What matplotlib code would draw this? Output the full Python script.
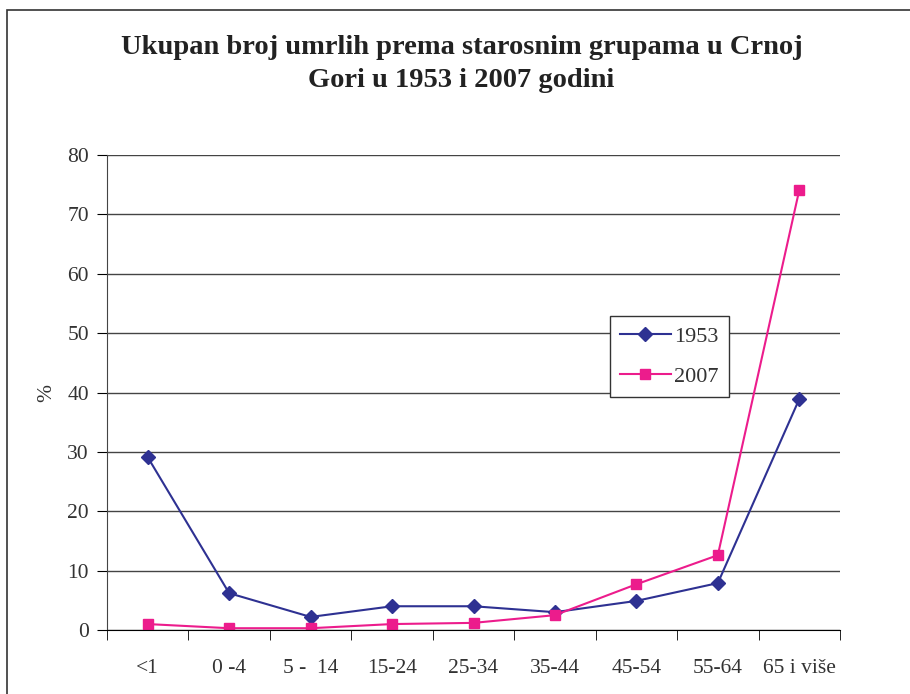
import numpy as np
import matplotlib
matplotlib.use("Agg")
import matplotlib.pyplot as plt
from matplotlib.patches import Rectangle

# age groups and share of deaths (%)
groups = ["<1", "0 -4", "5 -  14", "15-24", "25-34", "35-44", "45-54", "55-64", "65 i više"]
y1953 = [29.1, 6.2, 2.2, 4.0, 4.0, 3.0, 4.9, 7.9, 38.9]
y2007 = [1.0, 0.3, 0.3, 1.0, 1.2, 2.5, 7.7, 12.6, 74.1]
yticks = [0, 10, 20, 30, 40, 50, 60, 70, 80]

plt.rcParams["font.family"] = ["Liberation Serif", "DejaVu Serif"]
fig = plt.figure(figsize=(9.1, 6.94), dpi=100)
# axes: x 107..840 px, y 155..630 px
ax = fig.add_axes([107 / 910, 1 - 630 / 694, 733 / 910, 475 / 694])

x = np.arange(len(groups))
ax.plot(x, y1953, color="#2E3192", lw=1.5, marker="D", ms=7.5, label="1953")
ax.plot(x, y2007, color="#EC1C8C", lw=1.5, marker="s", ms=7.5, label="2007")

ax.set_xlim(-0.5, len(groups) - 0.5)
ax.set_ylim(0, 80)
ax.set_yticks(yticks)
ax.set_xticks(x)
ax.set_xticklabels(groups)
ax.set_xticks(np.arange(-0.5, len(groups)), minor=True)
ax.tick_params(axis="x", which="major", length=0, pad=21, labelsize=15.5, colors="#333333")
ax.tick_params(axis="x", which="minor", length=7, direction="out", color="black")
ax.tick_params(axis="y", length=7, direction="out", labelsize=15.5, colors="#333333", pad=6)
ax.tick_params(axis="y", color="black")
ax.grid(axis="y", color="#444444", lw=1)
ax.set_axisbelow(True)
for s in ["top", "right"]:
    ax.spines[s].set_visible(False)
ax.spines["left"].set_color("#444444")
ax.spines["bottom"].set_color("black")
ax.set_ylabel("%", fontsize=15.5, color="#333333", labelpad=8)

leg = ax.legend(loc="upper left", bbox_to_anchor=(0.686, 0.661), fontsize=16,
                frameon=True, fancybox=False, edgecolor="#333333", framealpha=1,
                handlelength=2.3, borderpad=0.45, labelspacing=0.9, handletextpad=0.15,
                borderaxespad=0)
leg.get_frame().set_linewidth(1)
for t in leg.get_texts():
    t.set_color("#333333")

fig.text(0.507, 1 - 64 / 694, "Ukupan broj umrlih prema starosnim grupama u Crnoj\nGori u 1953 i 2007 godini",
         ha="center", va="center", fontsize=20.5, fontweight="bold", color="#222222", linespacing=1.45)

fig.patches.append(Rectangle((7 / 910, -0.01), 1.5, 1 - 10 / 694 + 0.01, transform=fig.transFigure,
                             fill=False, edgecolor="#333333", lw=1.2))

fig.savefig("out.png", dpi=100)
